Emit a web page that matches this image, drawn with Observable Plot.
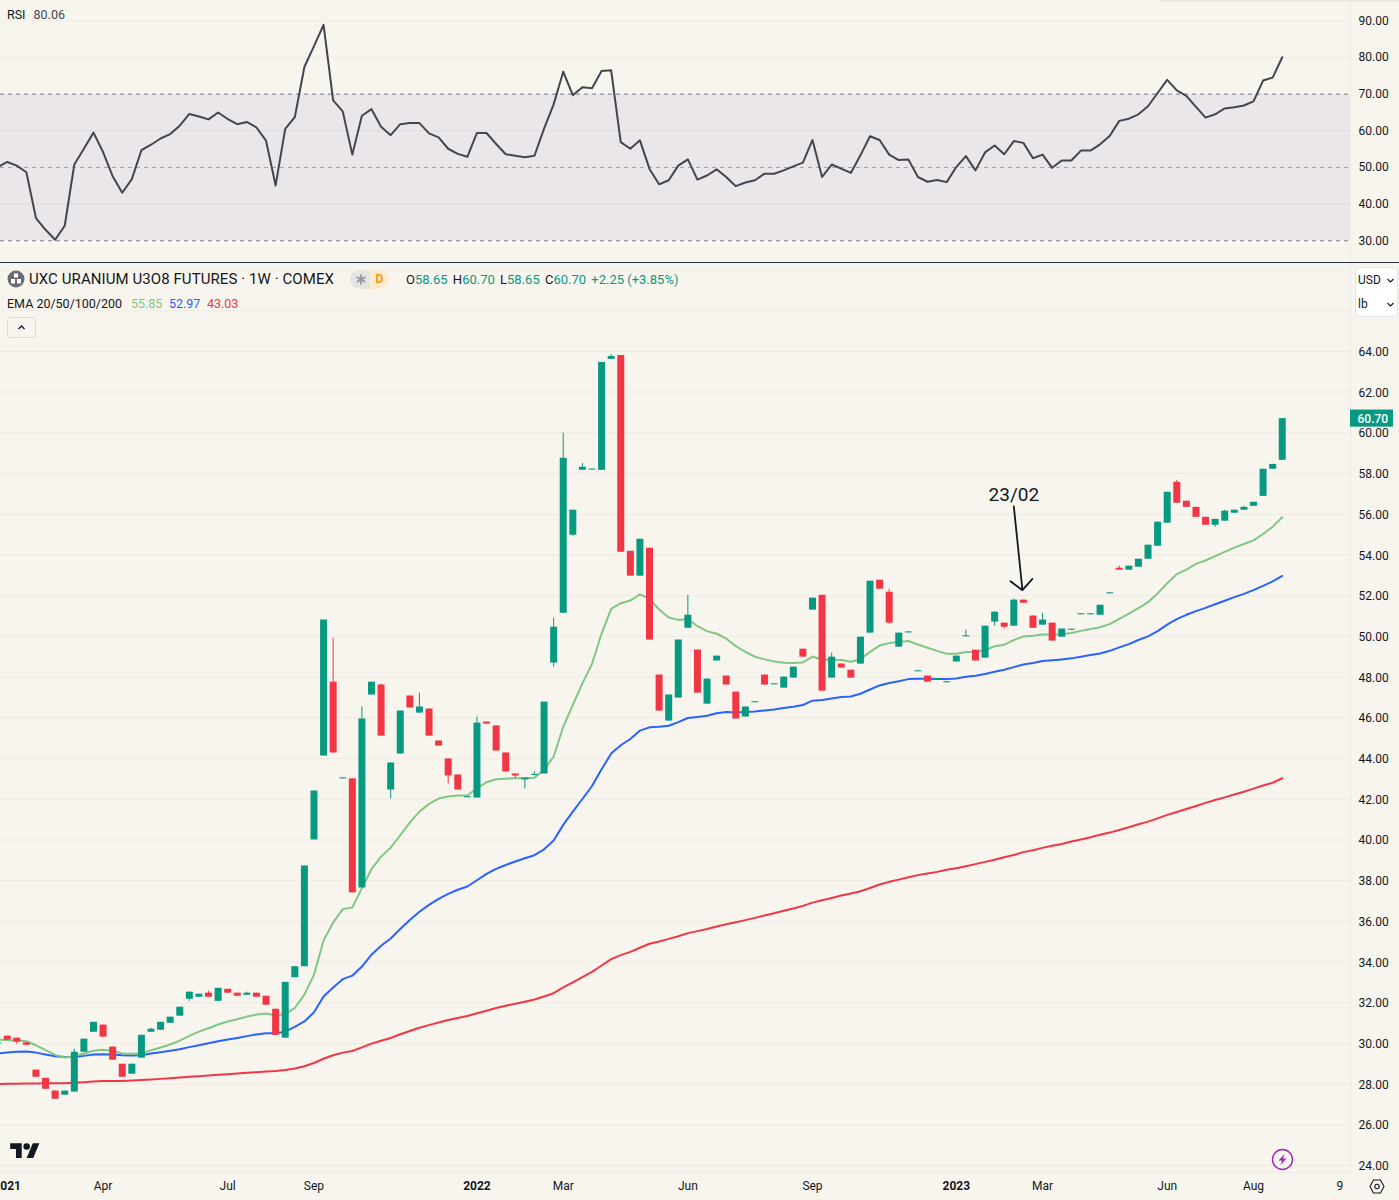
<!DOCTYPE html>
<html><head><meta charset="utf-8">
<script src="https://cdn.jsdelivr.net/npm/d3@7"></script>
<script src="https://cdn.jsdelivr.net/npm/@observablehq/plot@0.6"></script>
<style>
html,body{margin:0;padding:0;background:#f8f5ee;overflow:hidden}
#chart{position:relative;width:1399px;height:1200px;overflow:hidden;font-family:Roboto,sans-serif;color:#131722}
#chart svg{display:block}
.ov{position:absolute;white-space:nowrap;line-height:1}
</style></head><body>
<div id="chart">
<div id="rsi"></div><div id="price"></div>
<div class="ov" style="left:0;top:262px;width:1399px;height:1px;background:#2a2e39"></div>
<div class="ov" style="left:1160px;top:0;width:239px;height:1.5px;background:#e9e7e2"></div>
<div class="ov" style="left:7px;top:9px;font-size:12.5px">RSI<span style="margin-left:8px;color:#434651">80.06</span></div>
<svg class="ov" style="left:7px;top:270px" width="18" height="18" viewBox="0 0 18 18"><circle cx="9" cy="9" r="8.5" fill="#6a6d78"/><rect x="7" y="3.5" width="4" height="4" fill="#fff"/><rect x="4" y="9" width="4" height="4.5" fill="#fff"/><rect x="10" y="9" width="4" height="4.5" fill="#fff"/></svg>
<div class="ov" style="left:29px;top:272px;font-size:15px;letter-spacing:0.08px">UXC URANIUM U3O8 FUTURES · 1W · COMEX</div>
<div class="ov" style="left:350px;top:270px;width:20px;height:19px;background:#e6e5e3;border-radius:10px 0 0 10px"><svg width="20" height="19" viewBox="0 0 20 19"><path d="M11 4.5V14.5M6.7 7L15.3 12M6.7 12L15.3 7" stroke="#9598a1" stroke-width="1.8" fill="none"/></svg></div>
<div class="ov" style="left:370px;top:270px;width:19px;height:19px;background:#fcebd0;border-radius:0 10px 10px 0;color:#ff9800;font-size:12px;font-weight:700;text-align:center;line-height:19px">D</div>
<div class="ov" style="left:406px;top:273px;font-size:13px;color:#089981"><span style="color:#131722">O</span>58.65 <span style="color:#131722;margin-left:2px">H</span>60.70 <span style="color:#131722;margin-left:2px">L</span>58.65 <span style="color:#131722;margin-left:2px">C</span>60.70 <span style="margin-left:2px">+2.25 (+3.85%)</span></div>
<div class="ov" style="left:7px;top:298px;font-size:12.5px">EMA 20/50/100/200</div>
<div class="ov" style="left:131px;top:298px;font-size:12.5px;color:#81c784">55.85</div>
<div class="ov" style="left:169px;top:298px;font-size:12.5px;color:#2962ff">52.97</div>
<div class="ov" style="left:207px;top:298px;font-size:12.5px;color:#f23645">43.03</div>
<div class="ov" style="left:7px;top:317px;width:27px;height:19px;border:1px solid #dcdad4;border-radius:3px"><svg width="27" height="19" viewBox="0 0 27 19"><path d="M10.5 11 L13.5 8 L16.5 11" fill="none" stroke="#131722" stroke-width="1.3"/></svg></div>
<div class="ov" style="left:1355px;top:267px;width:41px;height:48px;background:#fff;border:1px solid #e0e3eb;border-radius:4px"></div>
<div class="ov" style="left:1358px;top:274px;font-size:12px">USD</div>
<div class="ov" style="left:1358px;top:298px;font-size:12px">lb</div>
<svg class="ov" style="left:1386px;top:276px" width="9" height="34" viewBox="0 0 9 34"><path d="M1.5 3 L4.5 6 L7.5 3 M1.5 27 L4.5 30 L7.5 27" fill="none" stroke="#131722" stroke-width="1.1"/></svg>
<svg class="ov" style="left:10px;top:1140px" width="30" height="23" viewBox="0 0 36 28"><g fill="#131722"><path d="M14 22H7V11H0V4h14v18z"/><path d="M28 22h-8l7.5-18h8L28 22z"/><circle cx="20" cy="8" r="4"/></g></svg>
<svg class="ov" style="left:1271px;top:1148px" width="23" height="23" viewBox="0 0 23 23"><circle cx="11.5" cy="11.5" r="10" fill="none" stroke="#9c27b0" stroke-width="1.4"/><path d="M13.5 6 L7.5 12.5 H11 L9.5 17 L15.5 10.5 H12 Z" fill="#9c27b0"/></svg>
<svg class="ov" style="left:1369px;top:1179px" width="16" height="15" viewBox="0 0 16 15"><path d="M1 7.5 L4.5 1 H11.5 L15 7.5 L11.5 14 H4.5 Z" fill="none" stroke="#131722" stroke-width="1.1"/><circle cx="8" cy="7.5" r="2.2" fill="none" stroke="#131722" stroke-width="1.1"/></svg>
</div>
<script>
const week = d3.range(-1, 134);
const open = [29.98,30.36,30.26,30.03,28.69,28.29,27.66,27.46,27.61,29.57,
30.55,30.90,29.82,28.98,28.49,29.28,30.55,30.65,30.99,31.34,
32.17,32.27,32.47,32.07,32.66,32.47,32.37,32.47,32.32,31.68,
30.26,33.23,33.77,40.0,44.12,47.75,43.0,43.0,37.64,47.12,
47.61,42.45,44.22,47.07,46.23,46.43,44.86,43.98,43.19,42.07,
42.06,45.79,45.6,44.27,43.24,42.95,43.17,43.24,48.69,51.14,
54.97,58.16,58.17,58.16,63.61,63.8,54.18,52.96,54.33,48.1,
45.84,46.97,50.4,49.33,46.67,48.79,48.05,47.26,46.04,46.74,
48.1,47.62,47.46,47.95,49.37,51.29,52.02,47.95,48.64,48.34,
48.64,50.16,52.76,52.17,49.47,50.17,48.26,48.05,47.88,47.72,
48.74,49.98,49.32,48.93,50.7,50.65,50.5,51.78,51.0,50.55,
50.65,49.96,50.3,51.06,51.06,51.04,52.09,53.35,53.25,53.4,
53.79,54.43,55.56,57.57,56.64,56.34,55.85,55.46,55.66,56.05,
56.2,56.39,56.88,58.21,58.65];
const high = [30.03,30.36,30.26,30.03,28.69,28.29,27.66,27.66,29.72,30.21,
31.04,30.90,29.82,28.98,28.98,30.40,30.75,31.04,31.29,31.78,
32.52,32.42,32.57,32.71,32.66,32.47,32.52,32.47,32.32,31.68,
33.0,33.77,38.72,42.4,50.8,49.91,43.05,43.0,46.53,47.75,
47.66,43.78,46.33,47.07,47.21,46.43,44.86,43.98,43.19,42.12,
46.04,45.79,45.6,44.27,43.24,43.04,43.34,46.77,50.9,59.98,
56.2,58.5,58.22,63.46,63.85,63.8,54.18,54.77,54.33,48.1,
47.12,49.82,52.02,49.33,47.9,49.03,48.05,47.26,46.53,46.79,
48.1,47.67,48.0,48.49,49.37,51.88,52.02,49.18,48.64,48.34,
49.96,52.71,52.76,52.32,50.16,50.22,48.31,48.05,47.93,47.77,
49.03,50.31,49.32,50.5,51.19,50.65,51.83,51.78,51.0,51.14,
50.65,50.36,50.35,51.11,51.11,51.53,52.14,53.45,53.45,53.79,
54.48,55.61,57.08,57.67,56.64,56.34,55.85,55.75,56.2,56.2,
56.39,56.59,58.21,58.45,60.70];
const low = [29.98,30.16,29.96,29.91,28.34,27.75,27.26,27.46,27.61,29.57,
30.55,30.31,29.18,28.34,28.49,29.28,30.55,30.65,30.99,31.34,
32.07,32.27,32.27,32.07,32.47,32.32,32.37,32.27,31.88,30.40,
30.26,33.23,33.77,40.0,44.12,44.27,43.0,37.4,37.64,47.12,
45.1,42.01,44.22,46.48,46.23,45.1,44.61,42.75,42.45,42.07,
42.06,45.69,44.37,43.34,43.0,42.5,43.17,43.24,48.49,51.14,
54.92,58.16,58.17,58.16,63.61,54.13,52.96,52.96,49.82,46.33,
45.84,46.97,50.4,47.21,46.67,48.79,47.61,45.94,46.04,46.74,
47.61,47.62,47.46,47.95,48.98,51.29,47.31,47.95,48.44,47.95,
48.64,50.16,52.32,50.6,49.47,50.17,48.26,47.75,47.88,47.72,
48.74,49.98,48.79,48.93,50.5,50.36,50.5,51.63,50.4,50.55,
49.77,49.96,50.3,51.06,51.06,51.04,52.09,53.25,53.25,53.4,
53.79,54.43,55.56,56.54,56.34,55.85,55.46,55.36,55.66,56.05,
56.2,56.39,56.88,58.21,58.65];
const close = [30.03,30.16,30.06,29.91,28.34,27.75,27.26,27.66,29.57,30.21,
31.04,30.31,29.18,28.34,28.98,30.40,30.70,31.04,31.29,31.78,
32.52,32.42,32.27,32.71,32.47,32.32,32.47,32.27,31.88,30.40,
33.0,33.77,38.72,42.4,50.8,44.27,43.05,37.4,45.94,47.75,
45.1,43.78,46.33,46.48,46.53,45.1,44.61,43.14,42.45,42.12,
45.74,45.69,44.37,43.34,43.14,43.04,43.22,46.77,50.45,58.75,
56.2,58.31,58.22,63.46,63.75,54.13,52.96,54.77,49.82,46.33,
47.12,49.82,51.04,47.21,47.9,49.03,47.61,45.94,46.53,46.79,
47.61,47.67,48.0,48.49,48.98,51.88,47.31,48.98,48.44,47.95,
49.96,52.71,52.32,50.65,50.16,50.22,48.31,47.75,47.93,47.77,
49.03,50.03,48.79,50.5,51.19,50.45,51.78,51.63,50.4,50.8,
49.77,50.36,50.35,51.11,51.11,51.53,52.14,53.25,53.45,53.79,
54.48,55.61,57.08,56.54,56.34,55.85,55.46,55.75,56.15,56.2,
56.34,56.59,58.21,58.45,60.70];
const ema20 = [30.19,30.16,30.14,30.11,29.91,29.67,29.44,29.31,29.37,29.51,
29.64,29.69,29.64,29.51,29.49,29.52,29.67,29.8,29.95,30.14,
30.37,30.58,30.75,30.93,31.08,31.19,31.32,31.42,31.47,31.37,
31.45,31.74,32.4,33.37,35.06,35.94,36.6,36.68,37.63,38.56,
39.18,39.62,40.23,40.85,41.39,41.77,42.03,42.13,42.18,42.18,
42.54,42.83,42.98,43.01,43.03,43.03,43.06,43.44,44.09,45.56,
46.63,47.69,48.64,50.14,51.35,51.63,51.76,52.06,51.84,51.32,
50.93,50.81,50.85,50.5,50.26,50.13,49.9,49.52,49.24,49.0,
48.87,48.77,48.7,48.69,48.72,49.01,48.85,48.87,48.84,48.75,
48.88,49.24,49.55,49.67,49.73,49.77,49.6,49.44,49.29,49.15,
49.15,49.23,49.23,49.33,49.51,49.59,49.82,50.0,50.03,50.09,
50.09,50.11,50.17,50.27,50.36,50.45,50.6,50.86,51.12,51.39,
51.68,52.11,52.61,53.06,53.28,53.56,53.73,53.94,54.15,54.36,
54.54,54.72,55.03,55.38,55.85];
const ema50 = [29.51,29.55,29.59,29.6,29.55,29.46,29.37,29.33,29.34,29.39,
29.46,29.47,29.46,29.42,29.41,29.42,29.51,29.57,29.64,29.72,
29.82,29.91,30.01,30.11,30.19,30.27,30.36,30.44,30.5,30.5,
30.58,30.81,31.08,31.53,32.31,32.75,33.16,33.33,33.78,34.36,
34.8,35.16,35.62,36.07,36.47,36.81,37.1,37.35,37.55,37.71,
38.02,38.33,38.58,38.77,38.94,39.1,39.25,39.54,39.97,40.74,
41.39,42.01,42.65,43.47,44.25,44.65,44.96,45.37,45.53,45.56,
45.61,45.79,45.99,46.04,46.1,46.22,46.28,46.26,46.28,46.31,
46.36,46.41,46.48,46.54,46.63,46.84,46.87,46.95,47.02,47.05,
47.18,47.39,47.59,47.71,47.8,47.9,47.92,47.92,47.9,47.9,
47.93,48.02,48.07,48.15,48.26,48.36,48.49,48.62,48.69,48.79,
48.83,48.87,48.92,49.0,49.08,49.16,49.29,49.46,49.62,49.82,
50.0,50.26,50.58,50.85,51.06,51.24,51.4,51.58,51.75,51.93,
52.09,52.27,52.48,52.7,52.97];
const ema200 = [28.0,28.02,28.02,28.03,28.03,28.05,28.05,28.05,28.07,28.1,
28.13,28.15,28.16,28.16,28.18,28.2,28.23,28.26,28.29,28.33,
28.36,28.39,28.43,28.46,28.49,28.52,28.56,28.59,28.62,28.65,
28.7,28.77,28.88,29.04,29.25,29.42,29.55,29.63,29.81,29.99,
30.13,30.27,30.45,30.61,30.77,30.9,31.03,31.15,31.25,31.35,
31.48,31.61,31.74,31.85,31.95,32.05,32.16,32.31,32.47,32.75,
33.0,33.26,33.52,33.83,34.14,34.34,34.5,34.7,34.9,35.01,
35.14,35.27,35.42,35.52,35.62,35.75,35.86,35.96,36.06,36.17,
36.29,36.4,36.52,36.63,36.76,36.92,37.04,37.15,37.27,37.37,
37.48,37.64,37.81,37.94,38.05,38.17,38.27,38.35,38.43,38.53,
38.61,38.71,38.81,38.92,39.03,39.15,39.26,39.4,39.49,39.61,
39.71,39.8,39.92,40.02,40.13,40.25,40.36,40.49,40.62,40.77,
40.9,41.06,41.23,41.37,41.52,41.67,41.82,41.96,42.09,42.23,
42.37,42.52,42.67,42.81,43.03];
const rsi = [50.1,51.5,50.5,48.7,36.2,33.0,30.3,34.1,50.8,55.1,
59.5,54.2,47.6,43.1,46.8,54.7,56.2,57.9,59.1,61.4,
64.6,63.9,63.1,65.0,63.2,61.8,62.4,60.9,57.3,45.1,
60.5,63.7,77.4,83.1,88.9,68.3,65.3,53.5,64.1,65.9,
61.1,58.8,61.8,62.1,62.1,59.3,58.2,55.1,53.7,52.9,
59.4,59.4,56.4,53.6,53.2,52.8,53.2,60.6,67.2,76.1,
69.7,71.9,71.6,76.3,76.5,56.9,55.1,57.4,49.6,45.4,
46.5,50.5,52.2,46.7,47.8,49.5,47.4,44.9,45.9,46.5,
48.3,48.3,49.2,50.3,51.3,57.5,47.4,50.8,49.7,48.5,
53.3,58.5,57.5,53.5,52.0,52.2,47.4,46.1,46.6,46.0,
50.1,53.1,49.2,54.1,56.0,53.6,57.2,56.7,52.5,53.5,
49.9,51.9,51.9,54.6,54.6,56.3,58.6,62.7,63.3,64.5,
66.7,70.3,73.9,71.0,69.5,66.5,63.6,64.5,66.1,66.4,
66.9,68.0,73.7,74.5,80.06];
const monthTicks = [10,23,32,58,71,84,108,121,130,139];
const monthLabels = ["Apr","Jul","Sep","Mar","Jun","Sep","Mar","Jun","Aug","9"];
const yearTicks = [0,49,99];
const yearLabels = ["2021","2022","2023"];
const priceTicks = d3.range(24, 66, 2);
const priceGrid = d3.range(24, 70, 2);
const rsiGrid = [40,60,80,90];
const rsiTicks = [30,40,50,60,70,80,90];
const annotation = {label:"23/02", week:105, labelPrice:56.93, startPrice:56.39, endWeek:105.9, endPrice:52.27};
const lastClose = close[close.length-1];

const GREEN="#089981", RED="#f23645", BG="#f8f5ee", GRID="#eeebe4";
const xDomain=[-0.699,140.12];
const rows = week.map((w,i)=>({w,open:open[i],high:high[i],low:low[i],close:close[i],e20:ema20[i],e50:ema50[i],e200:ema200[i],rsi:rsi[i]}));
const up = rows.filter(d=>d.close>=d.open), down = rows.filter(d=>d.close<d.open);
const baseStyle={background:BG,fontFamily:"Roboto, sans-serif",fontSize:"12px",color:"#131722"};

document.getElementById("rsi").append(Plot.plot({
  width:1399,height:262,marginTop:0,marginBottom:0,marginLeft:0,marginRight:49,style:baseStyle,
  x:{type:"linear",domain:xDomain,axis:null},
  y:{domain:[24.08,95.53],axis:null},
  marks:[
    Plot.rect([{a:30,b:70}],{x1:xDomain[0],x2:xDomain[1],y1:"a",y2:"b",fill:"#ebe6ea"}),
    Plot.ruleY(rsiGrid.filter(v=>v>70),{stroke:GRID}),
    Plot.ruleY(rsiGrid.filter(v=>v<70),{stroke:"#e0dcdf"}),
    Plot.ruleY([30,70],{stroke:"#787b86",strokeDasharray:"4,4"}),
    Plot.ruleY([50],{stroke:"#a5a4aa",strokeDasharray:"4,4"}),
    Plot.ruleX([xDomain[1]],{stroke:GRID}),
    Plot.line(rows,{x:"w",y:"rsi",stroke:"#434651",strokeWidth:2,curve:"linear"}),
    Plot.axisY({anchor:"right",ticks:rsiTicks,tickFormat:d=>d.toFixed(2),tickSize:0,tickPadding:8,label:null,fill:"#131722"})
  ]
}));

document.getElementById("price").append(Plot.plot({
  width:1399,height:938,marginTop:1,marginBottom:28,marginLeft:0,marginRight:49,style:baseStyle,
  x:{type:"linear",domain:xDomain,axis:null},
  y:{domain:[23.66,68.32],axis:null},
  marks:[
    Plot.ruleY(priceGrid,{stroke:GRID}),
    Plot.ruleY([23.66],{stroke:GRID}),
    Plot.ruleX([xDomain[1]],{stroke:GRID}),
    Plot.line(rows,{x:"w",y:"e200",stroke:RED,strokeWidth:2}),
    Plot.line(rows,{x:"w",y:"e50",stroke:"#2962ff",strokeWidth:2}),
    Plot.line(rows,{x:"w",y:"e20",stroke:"#81c784",strokeWidth:2}),
    Plot.ruleX(up,{x:"w",y1:"low",y2:"high",stroke:GREEN,strokeWidth:1}),
    Plot.ruleX(down,{x:"w",y1:"low",y2:"high",stroke:RED,strokeWidth:1}),
    Plot.ruleX(up,{x:"w",y1:"open",y2:"close",stroke:GREEN,strokeWidth:7}),
    Plot.ruleX(down,{x:"w",y1:"open",y2:"close",stroke:RED,strokeWidth:7}),
    Plot.arrow([annotation],{x1:"week",y1:"startPrice",x2:"endWeek",y2:"endPrice",stroke:"#131722",strokeWidth:1.8,headLength:12.5,headAngle:95}),
    Plot.text([annotation],{x:"week",y:"labelPrice",text:"label",fontSize:19,fill:"#131722"}),
    Plot.axisY({anchor:"right",ticks:priceTicks,tickFormat:d=>d.toFixed(2),tickSize:0,tickPadding:8,label:null,fill:"#131722",dy:0.7}),
    Plot.axisX({anchor:"bottom",ticks:monthTicks,tickFormat:d=>monthLabels[monthTicks.indexOf(d)],tickSize:0,tickPadding:9,label:null,fill:"#131722"}),
    Plot.axisX({anchor:"bottom",ticks:yearTicks,tickFormat:d=>yearLabels[yearTicks.indexOf(d)],tickSize:0,tickPadding:9,label:null,fill:"#131722",fontWeight:"bold"}),
    Plot.rect([lastClose],{x1:xDomain[1],x2:144.6,y1:d=>d-0.42,y2:d=>d+0.42,fill:GREEN}),
    Plot.text([lastClose],{x:xDomain[1],y:d=>d,dx:7,dy:0.7,textAnchor:"start",text:d=>d.toFixed(2),fill:"#fff",fontWeight:500})
  ]
}));
</script>
</body></html>
